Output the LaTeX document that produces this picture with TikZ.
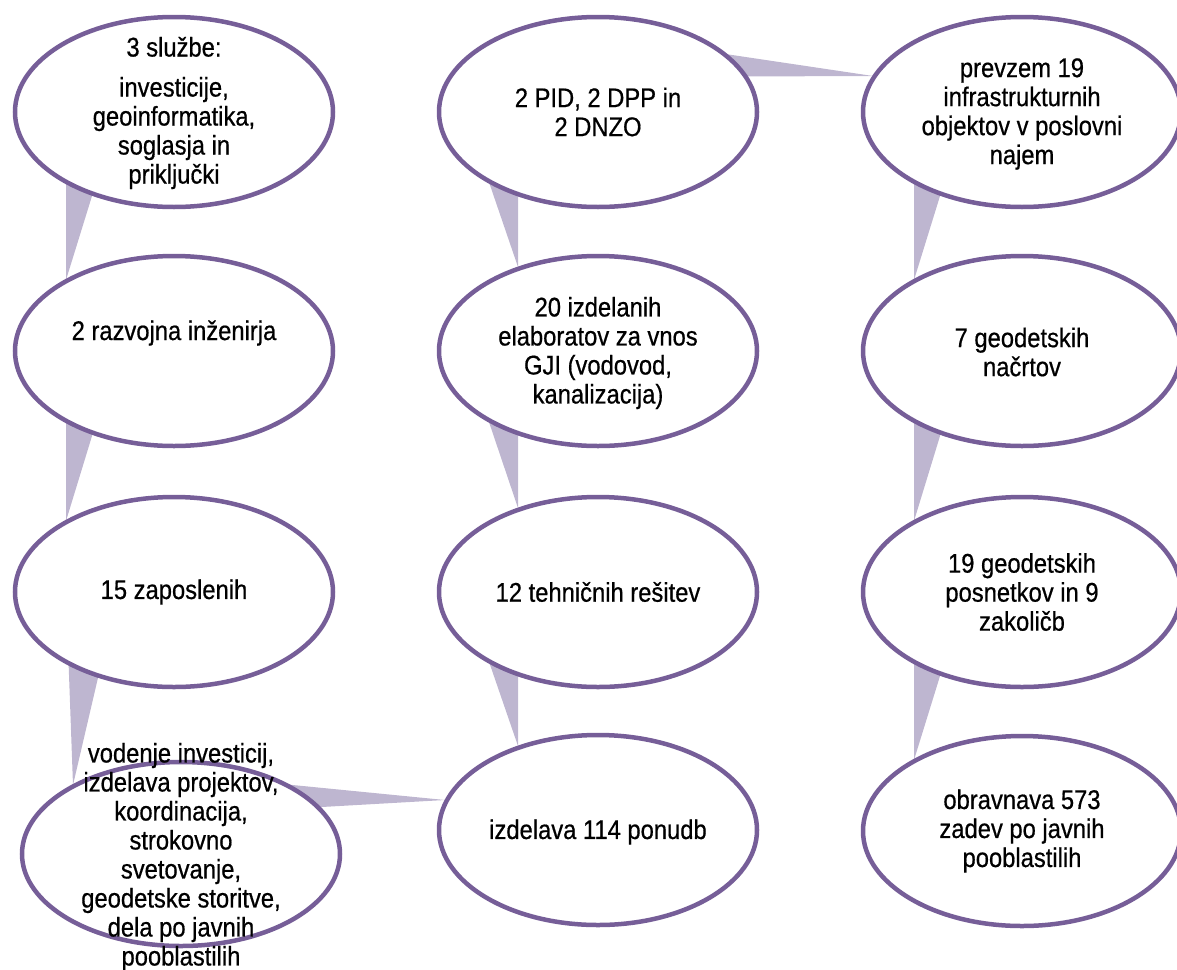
\documentclass[tikz,border=0pt]{standalone}
\usepackage{fontspec}
\setmainfont{Liberation Sans}[FakeStretch=0.88,FakeBold=0.6]
\usetikzlibrary{shapes.geometric,calc,backgrounds}

\definecolor{blobline}{RGB}{118,94,152}
\definecolor{linkfill}{RGB}{190,182,208}

\tikzset{
  blob/.style={ellipse,draw=blobline,line width=4.5pt,fill=white,
    minimum width=318pt,minimum height=190pt,inner sep=0pt},
  link/.style={fill=linkfill},
  txt/.style={align=center,inner sep=0pt,text=black,
    font=\fontsize{27}{29}\selectfont}
}

\begin{document}
\begin{tikzpicture}[x=1pt,y=-1pt]
\useasboundingbox (0,0) rectangle (1177,969);

% left column
\node[blob] (e1) at (174,112) {};
\node[blob] (e2) at (174,351) {};
\node[blob] (e3) at (174,592) {};
\node[blob,minimum height=184pt] (e4) at (181,854) {};

% middle column
\node[blob] (f1) at (598,112) {};
\node[blob] (f2) at (598,351) {};
\node[blob] (f3) at (598,592) {};
\node[blob] (f4) at (598,830) {};

% right column
\node[blob] (g1) at (1022,112) {};
\node[blob] (g2) at (1022,351) {};
\node[blob] (g3) at (1022,592) {};
\node[blob] (g4) at (1022,831) {};

% wedges behind the ellipses
\begin{scope}[on background layer]
\fill[link] ($(e1.center)+(-108,0)$) -- ($(e1.center)+(-56,0)$) -- ($(e2.center)+(-108,-71)$) -- cycle;
\fill[link] ($(e2.center)+(-108,0)$) -- ($(e2.center)+(-56,0)$) -- ($(e3.center)+(-108,-71)$) -- cycle;
\fill[link] ($(e3.center)+(-108,0)$) -- ($(e3.center)+(-56,0)$) -- ($(e4.center)+(-108,-69)$) -- cycle;
\fill[link] ($(e4.center)+(0,-80)$) -- ($(e4.center)+(0,-39)$) -- ($(f4.center)+(-153,-30)$) -- cycle;
\fill[link] ($(f3.center)+(-133,0)$) -- ($(f3.center)+(-80,0)$) -- ($(f4.center)+(-80,-84)$) -- cycle;
\fill[link] ($(f2.center)+(-133,0)$) -- ($(f2.center)+(-80,0)$) -- ($(f3.center)+(-80,-84)$) -- cycle;
\fill[link] ($(f1.center)+(-133,0)$) -- ($(f1.center)+(-80,0)$) -- ($(f2.center)+(-80,-84)$) -- cycle;
\fill[link] ($(f1.center)+(0,-77)$) -- ($(f1.center)+(0,-35)$) -- ($(g1.center)+(-149,-36)$) -- cycle;
\fill[link] ($(g1.center)+(-108,0)$) -- ($(g1.center)+(-56,0)$) -- ($(g2.center)+(-108,-71)$) -- cycle;
\fill[link] ($(g2.center)+(-108,0)$) -- ($(g2.center)+(-56,0)$) -- ($(g3.center)+(-108,-71)$) -- cycle;
\fill[link] ($(g3.center)+(-108,0)$) -- ($(g3.center)+(-56,0)$) -- ($(g4.center)+(-108,-71)$) -- cycle;
\end{scope}

% texts
\node[txt] (te1) at (174,113) {3 službe:\\[11pt] investicije,\\ geoinformatika,\\ soglasja in\\ priključki};
\node[txt] (te2) at ($(e2)+(0,-18)$) {2 razvojna inženirja};
\node[txt] (te3) at (e3) {15 zaposlenih};
\node[txt] (te4) at ($(e4)+(0,3)$) {vodenje investicij,\\ izdelava projektov,\\ koordinacija,\\ strokovno\\ svetovanje,\\ geodetske storitve,\\ dela po javnih\\ pooblastilih};

\node[txt] (tf1) at (f1) {2 PID, 2 DPP in\\ 2 DNZO};
\node[txt] (tf2) at ($(f2)+(0,2)$) {20 izdelanih\\ elaboratov za vnos\\ GJI (vodovod,\\ kanalizacija)};
\node[txt] (tf3) at (f3) {12 tehničnih rešitev};
\node[txt] (tf4) at ($(f4)+(0,2)$) {izdelava 114 ponudb};

\node[txt] (tg1) at ($(g1)+(0,2)$) {prevzem 19\\ infrastrukturnih\\ objektov v poslovni\\ najem};
\node[txt] (tg2) at ($(g2)+(0,1)$) {7 geodetskih\\ načrtov};
\node[txt] (tg3) at (g3) {19 geodetskih\\ posnetkov in 9\\ zakoličb};
\node[txt] (tg4) at (g4) {obravnava 573\\ zadev po javnih\\ pooblastilih};
\end{tikzpicture}
\end{document}
